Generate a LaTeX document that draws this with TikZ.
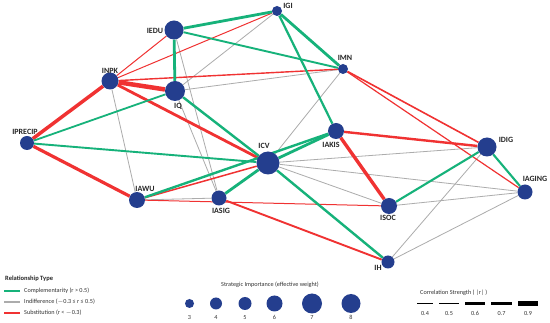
\documentclass[tikz,border=0pt]{standalone}
\usepackage{fontspec}
\setmainfont{Carlito}
\usetikzlibrary{backgrounds}
\pgfdeclarelayer{bottom}
\pgfdeclarelayer{background}
\pgfsetlayers{bottom,background,main}
\definecolor{cgreen}{RGB}{22,178,122}
\definecolor{cred}{RGB}{240,50,50}
\definecolor{cgray}{RGB}{172,172,172}
\definecolor{cnode}{RGB}{36,62,142}
\begin{document}
\begin{tikzpicture}[x=1pt,y=-1pt,
  vert/.style={circle,fill=cnode,inner sep=0pt,minimum size=#1},
  lbl/.style={font=\fontsize{8}{8}\selectfont\bfseries,text=black!85,inner sep=0pt},
  comp/.style={draw=cgreen,line width=#1},
  subs/.style={draw=cred,line width=#1},
  indf/.style={draw=cgray,line width=0.8pt},
  legtxt/.style={font=\fontsize{6.2}{6.2}\selectfont,text=black!80,inner sep=0pt},
  legtitle/.style={font=\fontsize{6.5}{6.5}\selectfont\bfseries,text=black!85,inner sep=0pt,anchor=west},
  legdot/.style={circle,fill=cnode,inner sep=0pt,minimum size=#1},
  corrline/.style={draw=black,line width=#1}
]
\begin{pgfonlayer}{bottom}
\fill[white] (0,0) rectangle (550,323);
\end{pgfonlayer}
\useasboundingbox (0,0) rectangle (550,323);

% vertices
\node[vert=10pt]  (IGI)     at (277,11)  {};
\node[vert=19pt]  (IEDU)    at (174,30)  {};
\node[vert=10pt]  (IMN)     at (343,69)  {};
\node[vert=17pt]  (INPK)    at (110,81)  {};
\node[vert=20pt]  (IQ)      at (175,91)  {};
\node[vert=14pt]  (IPRECIP) at (27,143)  {};
\node[vert=23pt]  (ICV)     at (268,163) {};
\node[vert=16pt]  (IAKIS)   at (336,131) {};
\node[vert=19pt]  (IDIG)    at (487,147) {};
\node[vert=15pt]  (IAGING)  at (525,192) {};
\node[vert=16pt]  (IAWU)    at (137,200) {};
\node[vert=15pt]  (IASIG)   at (219,198) {};
\node[vert=16pt]  (ISOC)    at (389,206) {};
\node[vert=13pt]  (IH)      at (388,262) {};

% labels
\node[lbl] (lIGI)     at (288,6)   {IGI};
\node[lbl] (lIEDU)    at (155,31)  {IEDU};
\node[lbl] (lIMN)     at (345,58)  {IMN};
\node[lbl] (lINPK)    at (110,71)  {INPK};
\node[lbl] (lIQ)      at (178,106) {IQ};
\node[lbl] (lIPRECIP) at (25,132)  {IPRECIP};
\node[lbl] (lICV)     at (264,146) {ICV};
\node[lbl] (lIAKIS)   at (331,145) {IAKIS};
\node[lbl] (lIDIG)    at (506,140) {IDIG};
\node[lbl] (lIAGING)  at (535,179) {IAGING};
\node[lbl] (lIAWU)    at (145,189) {IAWU};
\node[lbl] (lIASIG)   at (221,211) {IASIG};
\node[lbl] (lISOC)    at (388,218) {ISOC};
\node[lbl] (lIH)      at (378,268) {IH};

\begin{pgfonlayer}{background}
% indifference
\draw[indf] (IGI) -- (IQ);
\draw[indf] (IQ) -- (IMN);
\draw[indf] (IMN) -- (ICV);
\draw[indf] (INPK) -- (IAWU);
\draw[indf] (IEDU) -- (IASIG);
\draw[indf] (IQ) -- (IASIG);
\draw[indf] (IAWU) -- (IASIG);
\draw[indf] (ICV) -- (IDIG);
\draw[indf] (ICV) -- (IAGING);
\draw[indf] (ICV) -- (ISOC);
\draw[indf] (ISOC) -- (IAGING);
\draw[indf] (IDIG) -- (IH);
\draw[indf] (IAGING) -- (IH);
% substitution
\draw[subs=1pt]   (INPK) -- (IGI);
\draw[subs=1pt]   (INPK) -- (IEDU);
\draw[subs=1.4pt] (INPK) -- (IMN);
\draw[subs=3.5pt] (INPK) -- (IPRECIP);
\draw[subs=4.5pt] (INPK) -- (IQ);
\draw[subs=2.8pt] (INPK) -- (ICV);
\draw[subs=3.2pt] (IPRECIP) -- (IAWU);
\draw[subs=1.6pt] (IMN) -- (IDIG);
\draw[subs=1.2pt] (IMN) -- (IAGING);
\draw[subs=2.4pt] (IAKIS) -- (IDIG);
\draw[subs=3.4pt] (IAKIS) -- (ISOC);
\draw[subs=1.5pt] (IAWU) -- (ICV);
\draw[subs=1pt]   (IAWU) -- (ISOC);
\draw[subs=1.9pt] (IASIG) -- (IH);
% complementarity
\draw[comp=2.8pt] (IGI) -- (IEDU);
\draw[comp=2.8pt] (IGI) -- (IMN);
\draw[comp=2.2pt] (IGI) -- (IAKIS);
\draw[comp=2.8pt] (IEDU) -- (IQ);
\draw[comp=1.9pt] (IEDU) -- (IMN);
\draw[comp=1.8pt] (IQ) -- (IPRECIP);
\draw[comp=2.4pt] (IQ) -- (ICV);
\draw[comp=1.9pt] (IPRECIP) -- (ICV);
\draw[comp=2.8pt] (ICV) -- (IAKIS);
\draw[comp=2.4pt] (IAWU) -- (IAKIS);
\draw[comp=2.8pt] (ICV) -- (IASIG);
\draw[comp=2.4pt] (ICV) -- (IH);
\draw[comp=2.1pt] (ISOC) -- (IDIG);
\draw[comp=2.1pt] (IDIG) -- (IAGING);
\end{pgfonlayer}

% legend: relationship type
\node[legtitle] (ltitle) at (5,279) {Relationship Type};
\draw[cgreen,line width=1.6pt] (4,291) -- (20,291);
\draw[cgray,line width=1.6pt]  (4,302) -- (20,302);
\draw[cred,line width=1.6pt]   (4,313) -- (20,313);
\node[legtxt,anchor=west] (lcomp) at (24,291) {Complementarity (r > 0.5)};
\node[legtxt,anchor=west] (lind)  at (24,302) {Indifference ($-$0.3 ≤ r ≤ 0.5)};
\node[legtxt,anchor=west] (lsub)  at (24,313) {Substitution (r < $-$0.3)};

% legend: strategic importance
\node[legtxt] (simp) at (270,285) {Strategic Importance (effective weight)};
\node[legdot=9pt]  (d3) at (189.5,303.5) {};
\node[legdot=12pt] (d4) at (216,303.5) {};
\node[legdot=13pt] (d5) at (245,303.5) {};
\node[legdot=16pt] (d6) at (274.5,303.5) {};
\node[legdot=20pt] (d7) at (312,303.5) {};
\node[legdot=19pt] (d8) at (351,303.5) {};
\node[legtxt] (n3) at (189.5,317.5) {3};
\node[legtxt] (n4) at (216,317.5) {4};
\node[legtxt] (n5) at (245,317.5) {5};
\node[legtxt] (n6) at (274.5,317.5) {6};
\node[legtxt] (n7) at (312,317.5) {7};
\node[legtxt] (n8) at (351,317.5) {8};

% legend: correlation strength
\node[legtxt,anchor=west] (cstr) at (420,293) {Correlation Strength ( |r| )};
\draw[corrline=0.7pt] (417,303.7) -- (433,303.7);
\draw[corrline=1.3pt] (439,303.7) -- (459,303.7);
\draw[corrline=2.4pt] (465,303.7) -- (485,303.7);
\draw[corrline=3pt]   (491,303.7) -- (512,303.7);
\draw[corrline=4.5pt] (518,303.7) -- (538,303.7);
\node[legtxt] (c4) at (425,313.3) {0.4};
\node[legtxt] (c5) at (449,313.3) {0.5};
\node[legtxt] (c6) at (475,313.3) {0.6};
\node[legtxt] (c7) at (501.5,313.3) {0.7};
\node[legtxt] (c9) at (528,313.3) {0.9};
\end{tikzpicture}
\end{document}
